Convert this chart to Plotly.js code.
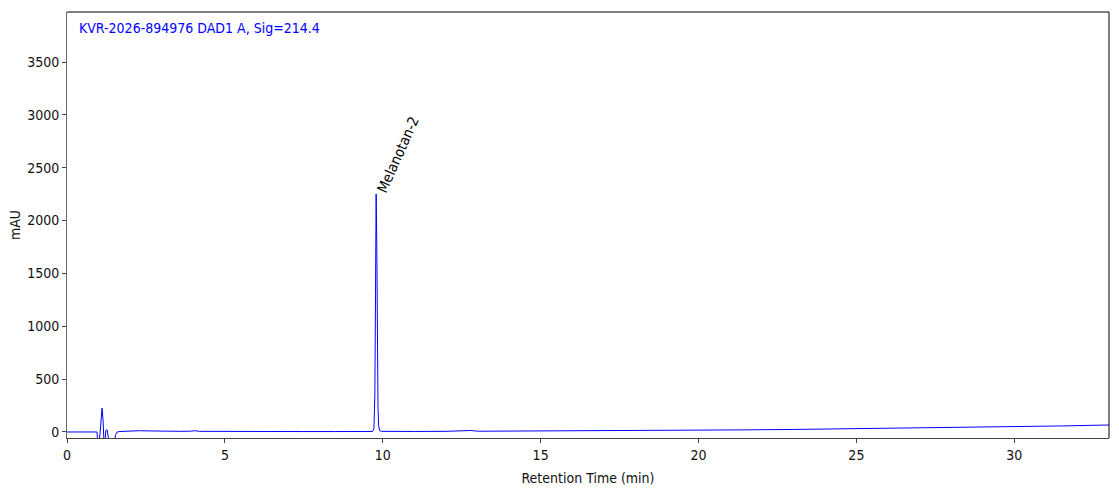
<!DOCTYPE html>
<html>
<head>
<meta charset="utf-8">
<script src="https://cdn.plot.ly/plotly-3.0.1.min.js"></script>
<style>
  html, body { margin: 0; padding: 0; background: #fff; }
  #grafico { width: 1119px; height: 499px; }
</style>
</head>
<body>
<div id="grafico"></div>
<script>
// cromatograma (tiempo en min, senal en mAU)
const tiempo = [
    0, 0.5, 0.93, 0.95, 0.97, 1.00, 1.02, 1.05, 1.08, 1.11, 1.14, 1.17, 1.20,
    1.23, 1.27, 1.30, 1.33, 1.37, 1.42, 1.46, 1.50, 1.54, 1.58, 1.65, 1.8, 2.0,
    2.3, 2.6, 3.0, 3.3, 3.6, 3.95, 4.05, 4.2, 4.6, 5.0, 5.4, 5.5, 5.6, 6.5, 7.5,
    8.5, 9.3, 9.68, 9.72, 9.75, 9.77, 9.79, 9.81, 9.83, 9.85, 9.87, 9.90, 9.95,
    10.1, 11.0, 12.0, 12.6, 12.8, 13.0, 14.0, 15.5, 17.0, 17.3, 17.5, 19.0,
    20.0, 21.5, 23.0, 24.5, 26.0, 26.2, 26.4, 26.8, 26.9, 27.1, 28.5, 29.5,
    30.5, 31.5, 32.3, 33.0
];
const senal = [
    0, 0, 0, 0, -90, -90, -90, 0, 110, 225, 120, -90, -90,
    15, 20, -40, -90, -90, -90, -90, -90, -25, -2, 4, 7, 10,
    12, 10, 6, 5, 6, 8, 12, 6, 5, 5, 6, 9, 5, 4, 4,
    4, 4, 5, 30, 350, 1300, 2250, 1800, 800, 220, 60, 14, 6,
    5, 5, 6, 8, 14, 7, 8, 9, 11, 14, 11, 14,
    17, 20, 24, 29, 33, 37, 33, 35, 39, 36, 42, 47,
    52, 57, 62, 66
];
const picoTiempo = [9.80];
const picoSenal = [2250];
const picoNombre = ["Melanotan-2"];
const ticksX = [0, 5, 10, 15, 20, 25, 30];
const ticksY = [0, 500, 1000, 1500, 2000, 2500, 3000, 3500];
const tituloSenal = "KVR-2026-894976 DAD1 A, Sig=214.4";

const familia = "DejaVu Sans Condensed, Liberation Sans Narrow, DejaVu Sans, sans-serif";
const fuente = { family: familia, size: 14, color: "#111" };

const traza = {
    x: tiempo,
    y: senal,
    type: 'scatter',
    mode: 'lines',
    line: { color: '#0000ff', width: 1 },
    hoverinfo: 'skip'
};

const anotaciones = picoTiempo.map((t, i) => ({
    x: t,
    y: picoSenal[i],
    xref: 'x',
    yref: 'y',
    text: picoNombre[i],
    showarrow: false,
    textangle: -66,
    xanchor: 'center',
    yanchor: 'middle',
    xshift: 22,
    yshift: 40,
    font: { family: familia, size: 14.5, color: '#000' }
}));

anotaciones.push({
    x: 0.01,
    y: 0.985,
    xref: 'paper',
    yref: 'paper',
    text: tituloSenal,
    showarrow: false,
    xanchor: 'left',
    yanchor: 'top',
    font: { family: familia, size: 14, color: '#0000ff' }
});

const layout = {
    width: 1119,
    height: 499,
    margin: { l: 67, r: 10, t: 12, b: 61 },
    paper_bgcolor: '#fff',
    plot_bgcolor: '#fff',
    showlegend: false,
    font: fuente,
    xaxis: {
        range: [0, 33],
        tickvals: ticksX,
        ticks: 'outside',
        ticklen: 4,
        tickcolor: '#444',
        showgrid: false,
        zeroline: false,
        showline: true,
        linecolor: '#444',
        linewidth: 1,
        title: { text: 'Retention Time (min)', font: fuente, standoff: 11 }
    },
    yaxis: {
        range: [-57, 3973],
        tickvals: ticksY,
        ticks: 'outside',
        ticklen: 4,
        tickcolor: '#444',
        showgrid: false,
        zeroline: false,
        showline: true,
        linecolor: '#666',
        linewidth: 1,
        title: { text: 'mAU', font: fuente, standoff: 3 }
    },
    annotations: anotaciones,
    shapes: [
        { type: 'line', xref: 'paper', yref: 'paper', x0: 0, x1: 1, y0: 1, y1: 1, line: { color: '#000', width: 1 } },
        { type: 'line', xref: 'paper', yref: 'paper', x0: 1, x1: 1, y0: 0, y1: 1, line: { color: '#000', width: 1 } }
    ]
};

Plotly.newPlot('grafico', [traza], layout, { displayModeBar: false, staticPlot: true });
</script>
</body>
</html>
